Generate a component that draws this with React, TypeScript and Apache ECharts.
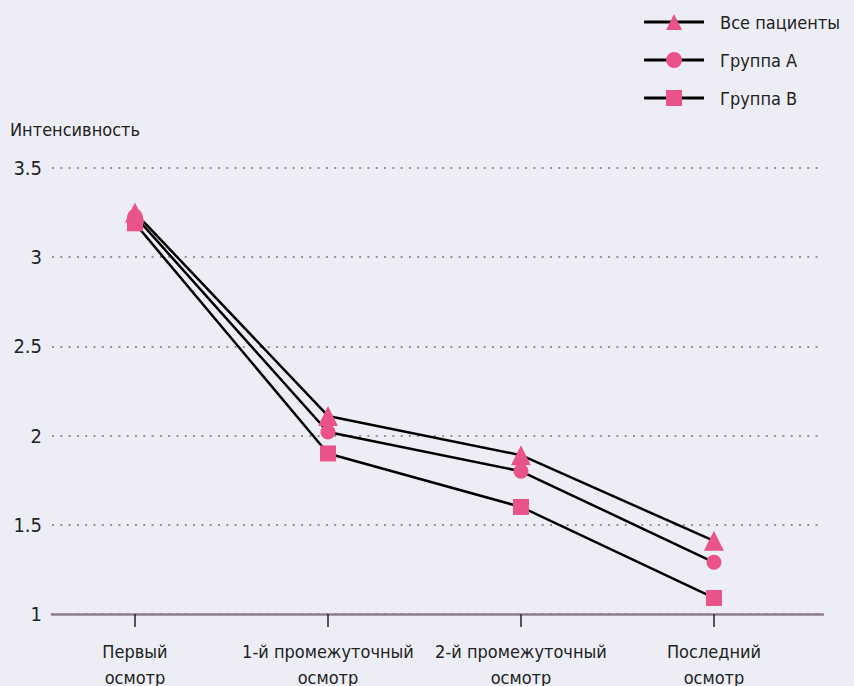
import React, { useEffect, useRef } from "react";
import * as echarts from "echarts";

const categories = ["Первый\nосмотр", "1-й промежуточный\nосмотр", "2-й промежуточный\nосмотр", "Последний\nосмотр"];
const seriesNames = ["Все пациенты", "Группа A", "Группа B"];
const allPatients = [3.25, 2.11, 1.89, 1.41];
const groupA = [3.23, 2.02, 1.8, 1.29];
const groupB = [3.19, 1.9, 1.6, 1.09];
const yTicks = [1, 1.5, 2, 2.5, 3, 3.5];
const yTitle = "Интенсивность";

const FONT = "'Liberation Sans Narrow', 'DejaVu Sans Condensed', 'Noto Sans', sans-serif";
const PINK = "#e9538a";

export default function App() {
  const ref = useRef<HTMLDivElement>(null);
  useEffect(() => {
    document.body.style.margin = "0";
    const chart = echarts.init(ref.current!, undefined, { renderer: "svg" });
    const toPts = (arr: number[]) => arr.map((v, i) => [i, v]);
    const mk = (name: string, data: number[], symbol: string, size: number) => ({
      name,
      type: "line",
      data: toPts(data),
      symbol,
      symbolSize: size,
      showSymbol: true,
      lineStyle: { color: "#000", width: 2.5 },
      itemStyle: { color: PINK, opacity: 1 },
      emphasis: { disabled: true },
    });
    chart.setOption({
      animation: false,
      backgroundColor: "#edeef5",
      textStyle: { fontFamily: FONT },
      title: {
        text: yTitle,
        left: 10,
        top: 120,
        padding: 0,
        textStyle: { fontFamily: FONT, fontSize: 18, fontWeight: "normal", color: "#222" },
      },
      legend: {
        orient: "vertical",
        right: 9,
        top: 8,
        itemWidth: 60,
        itemHeight: 20,
        itemGap: 20,
        align: "left",
        data: seriesNames,
        lineStyle: { width: 3, color: "#000" },
        textStyle: { fontFamily: FONT, fontSize: 18, color: "#222", padding: [0, 0, 0, 11] },
      },
      grid: { left: 52, right: 31, top: 168, bottom: 72, outerBoundsMode: "none" },
      xAxis: {
        type: "value",
        min: -0.43,
        max: 3.565,
        splitLine: { show: false },
        axisLine: { show: true, lineStyle: { color: "#8e7f8b", width: 2.5 } },
        axisTick: { show: true, customValues: [0, 1, 2, 3], length: 13, lineStyle: { color: "#222", width: 1.5 } },
        axisLabel: {
          customValues: [0, 1, 2, 3],
          formatter: (v: number) => categories[Math.round(v)],
          fontFamily: FONT,
          fontSize: 18,
          lineHeight: 26,
          color: "#222",
          margin: 24,
        },
      },
      yAxis: {
        type: "value",
        min: 1,
        max: 3.5,
        interval: 0.5,
        axisLine: { show: false },
        axisTick: { show: false },
        axisLabel: {
          fontFamily: FONT,
          fontSize: 20,
          color: "#222",
          margin: 10,
          customValues: yTicks,
        },
        splitLine: { show: true, lineStyle: { color: "#9a8d97", width: 2, type: [2, 6.3] } },
      },
      series: [
        mk(seriesNames[0], allPatients, "triangle", 20),
        mk(seriesNames[1], groupA, "circle", 15),
        mk(seriesNames[2], groupB, "rect", 16),
      ],
    });
    return () => chart.dispose();
  }, []);
  return <div ref={ref} style={{ width: 854, height: 686 }} />;
}
